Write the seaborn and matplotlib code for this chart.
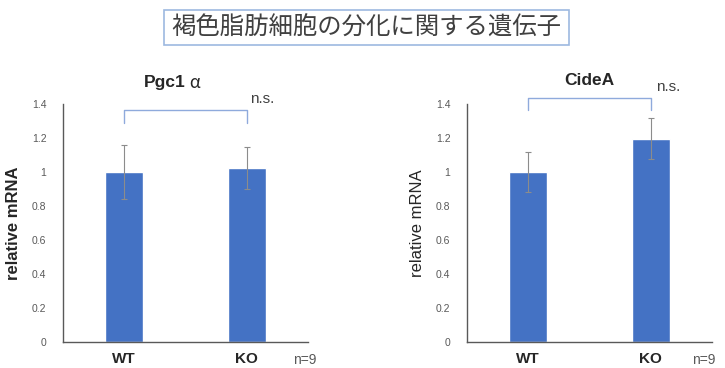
import numpy as np
import pandas as pd
import matplotlib
matplotlib.use("Agg")
import matplotlib.pyplot as plt
import seaborn as sns
from matplotlib.patches import Rectangle

# ---- data ----
groups = ["WT", "KO"]
pgc1a_mean = [1.0, 1.025]
pgc1a_err = [0.16, 0.125]
cidea_mean = [1.0, 1.195]
cidea_err = [0.12, 0.12]
y_ticks = [0, 0.2, 0.4, 0.6, 0.8, 1.0, 1.2, 1.4]
y_tick_labels = ["0", "0.2", "0.4", "0.6", "0.8", "1", "1.2", "1.4"]
suptitle = "褐色脂肪細胞の分化に関する遺伝子"

sns.set_theme(style="white")
plt.rcParams['font.family'] = ['Liberation Sans', 'Noto Sans CJK JP', 'DejaVu Sans']

BAR = "#4472C4"
BRACKET = "#8FAADC"
TICK_GRAY = "#595959"

fig = plt.figure(figsize=(7.25, 3.68), dpi=100)

# title box
fig.patches.append(Rectangle((164 / 725, 1 - 45 / 368), 405 / 725, 35 / 368,
                             transform=fig.transFigure, fill=False,
                             edgecolor="#9DB9E0", linewidth=1.2))
fig.text(366 / 725, 1 - 28 / 368, suptitle, ha="center", va="center",
         fontsize=17.6, color="#404040", family=['Noto Sans CJK JP', 'DejaVu Sans'])


def panel(rect, means, errs, title_parts, ylabel_bold, bracket_y, bracket_drop,
          title_y, ns_xy, n_x):
    ax = fig.add_axes(rect)
    df = pd.DataFrame({"group": groups, "value": means})
    sns.barplot(data=df, x="group", y="value", color=BAR, saturation=1,
                width=0.31, errorbar=None, ax=ax)
    ax.errorbar(range(len(groups)), means, yerr=errs, fmt="none",
                ecolor="#8C8C8C", elinewidth=0.8, capsize=2, capthick=0.8)
    ax.set_xlim(-0.5, 1.5)
    ax.set_ylim(0, 1.4)
    ax.set_yticks(y_ticks)
    ax.set_yticklabels(y_tick_labels, fontsize=7.5, color=TICK_GRAY)
    ax.tick_params(axis="y", length=0, pad=12)
    ax.tick_params(axis="x", length=0, pad=7)
    for lab in ax.get_xticklabels():
        lab.set_fontweight("bold")
        lab.set_fontsize(11)
        lab.set_color("#262626")
    ax.set_xlabel("")
    ax.set_ylabel("relative mRNA", fontsize=12, color="#262626",
                  fontweight="bold" if ylabel_bold else "normal", labelpad=8)
    for s in ["top", "right"]:
        ax.spines[s].set_visible(False)
    for s in ["left", "bottom"]:
        ax.spines[s].set_color("#595959")
        ax.spines[s].set_linewidth(1.0)

    # significance bracket
    ax.plot([0, 0, 1, 1], [bracket_y - bracket_drop, bracket_y, bracket_y, bracket_y - bracket_drop],
            color=BRACKET, linewidth=1.0, clip_on=False)
    ax.text(ns_xy[0], ns_xy[1], "n.s.", fontsize=11, color="#404040",
            ha="left", va="center", clip_on=False, transform=ax.transData)

    # title: bold name + greek letter
    name, greek = title_parts
    ax.text(0.5, title_y, name, transform=ax.transAxes,
            ha="right" if greek else "center", va="center", fontsize=12.5,
            fontweight="bold", color="#262626")
    if greek:
        ax.text(0.5, title_y, " " + greek, transform=ax.transAxes, ha="left",
                va="center", fontsize=12.5, color="#262626",
                family=['Noto Sans CJK JP', 'DejaVu Sans'])

    ax.text(n_x, -0.075, "n=9", transform=ax.transAxes, ha="left", va="center",
            fontsize=10, color="#595959")
    return ax


ax1 = panel([63 / 725, 26 / 368, 245 / 725, 238 / 368], pgc1a_mean, pgc1a_err,
            ("Pgc1", "α"), True, 1.365, 0.075, 1.09, (1.03, 1.43), 0.94)
ax2 = panel([467 / 725, 26 / 368, 245 / 725, 238 / 368], cidea_mean, cidea_err,
            ("CideA", None), False, 1.435, 0.07, 1.1, (1.04, 1.50), 0.92)

fig.savefig("out.png", dpi=100)
